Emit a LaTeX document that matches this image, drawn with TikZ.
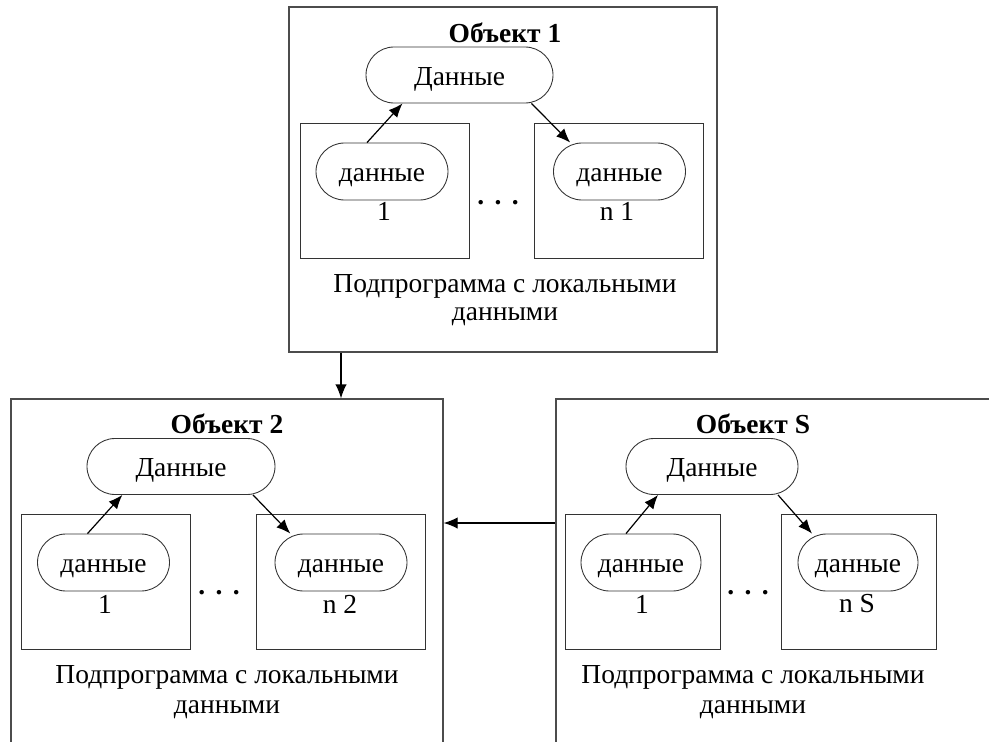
\documentclass[tikz,border=0pt]{standalone}
\usepackage{fontspec}
\setmainfont{Liberation Serif}
\usetikzlibrary{shapes.misc,arrows.meta}
\begin{document}
\begin{tikzpicture}[x=0.75pt,y=-0.75pt,
  every node/.style={font=\fontsize{20.6}{24}\selectfont, inner sep=0pt, text=black},
  obox/.style={draw=black!70, line width=0.9pt, rectangle},
  ibox/.style={draw=black!80, line width=0.65pt, rectangle, minimum height=101.25pt},
  pill/.style={draw=black!80, line width=0.65pt, rounded rectangle, minimum height=42pt, text height=15.5pt, text depth=0pt},
  spill/.style={pill, minimum height=42.75pt},
  ttl/.style={font=\fontsize{20.6}{24}\selectfont\bfseries},
  dotsx/.style={anchor=base, font=\fontsize{20.6}{24}\selectfont\bfseries},
  arr/.style={line width=0.9pt, -{Latex[length=10.5pt,width=8.5pt]}},
]
\useasboundingbox (0,0) rectangle (989,742);
\clip (0,0) rectangle (989,742);
\fill[white] (0,0) rectangle (989,742);

% ---------- Object 1 ----------
\node[obox, minimum width=321pt, minimum height=258.75pt] (o1) at (503,179.5) {};
\node[ttl] (t1) at (505,33) {Объект 1};
\node[pill, minimum width=140.25pt] (d1) at (459.5,75) {Данные};
\node[ibox, minimum width=126.75pt] (l1) at (384.5,190.5) {};
\node[ibox, minimum width=126.75pt] (r1) at (619,190.5) {};
\node[spill, minimum width=99pt] (ls1) at (382,171.5) {данные};
\node[spill, minimum width=99pt] (rs1) at (619.5,171.5) {данные};
\node (ln1) at (384,211) {1};
\node (rn1) at (617,211) {n 1};
\node[dotsx] (dots1) at (498,204) {.\hspace{0.38em}.\hspace{0.38em}.};
\node (c1a) at (505,286) {Подпрограмма с локальными};
\node (c1b) at (505,317) {данными};
\draw[arr] ([xshift=-11.25pt]ls1.north) -- ([xshift=-42.75pt]d1.south);
\draw[arr] ([xshift=54pt]d1.south) -- ([xshift=-37pt]rs1.north);

% ---------- Object 2 ----------
\node[obox, minimum width=324pt, minimum height=270.75pt] (o2) at (227,579.5) {};
\node[ttl] (t2) at (227,424) {Объект 2};
\node[pill, minimum width=141pt] (d2) at (181,466.5) {Данные};
\node[ibox, minimum width=126.75pt] (l2) at (105.5,581.5) {};
\node[ibox, minimum width=126.75pt] (r2) at (340.5,581.5) {};
\node[spill, minimum width=99pt] (ls2) at (103.5,562.5) {данные};
\node[spill, minimum width=99pt] (rs2) at (341,562.5) {данные};
\node (ln2) at (105,604) {1};
\node (rn2) at (340,604) {n 2};
\node[dotsx] (dots2) at (219,594) {.\hspace{0.38em}.\hspace{0.38em}.};
\node (c2a) at (227,677) {Подпрограмма с локальными};
\node (c2b) at (227,710) {данными};
\draw[arr] ([xshift=-12pt]ls2.north) -- ([xshift=-44pt]d2.south);
\draw[arr] ([xshift=54pt]d2.south) -- ([xshift=-38pt]rs2.north);

% ---------- Object S ----------
\node[obox, minimum width=333pt, minimum height=270.75pt] (oS) at (778,579.5) {};
\node[ttl] (tS) at (753,424) {Объект S};
\node[pill, minimum width=129pt] (dS) at (712,466.5) {Данные};
\node[ibox, minimum width=116.25pt] (lS) at (642.5,581.5) {};
\node[ibox, minimum width=116.25pt] (rS) at (858.5,581.5) {};
\node[spill, minimum width=90pt] (lsS) at (641,562.5) {данные};
\node[spill, minimum width=90pt] (rsS) at (858,562.5) {данные};
\node (lnS) at (642,604) {1};
\node (rnS) at (857,604) {n S};
\node[dotsx] (dotsS) at (748,594) {.\hspace{0.38em}.\hspace{0.38em}.};
\node (cSa) at (753,677) {Подпрограмма с локальными};
\node (cSb) at (753,710) {данными};
\draw[arr] ([xshift=-11.25pt]lsS.north) -- ([xshift=-40.5pt]dS.south);
\draw[arr] ([xshift=49.5pt]dS.south) -- ([xshift=-34.5pt]rsS.north);

% ---------- links between objects ----------
\coordinate (v12) at (341,0);
\coordinate (hS2) at (0,523);
\draw[arr] (v12 |- o1.south) -- (v12 |- o2.north);
\draw[arr] (oS.west |- hS2) -- (o2.east |- hS2);
\end{tikzpicture}
\end{document}
